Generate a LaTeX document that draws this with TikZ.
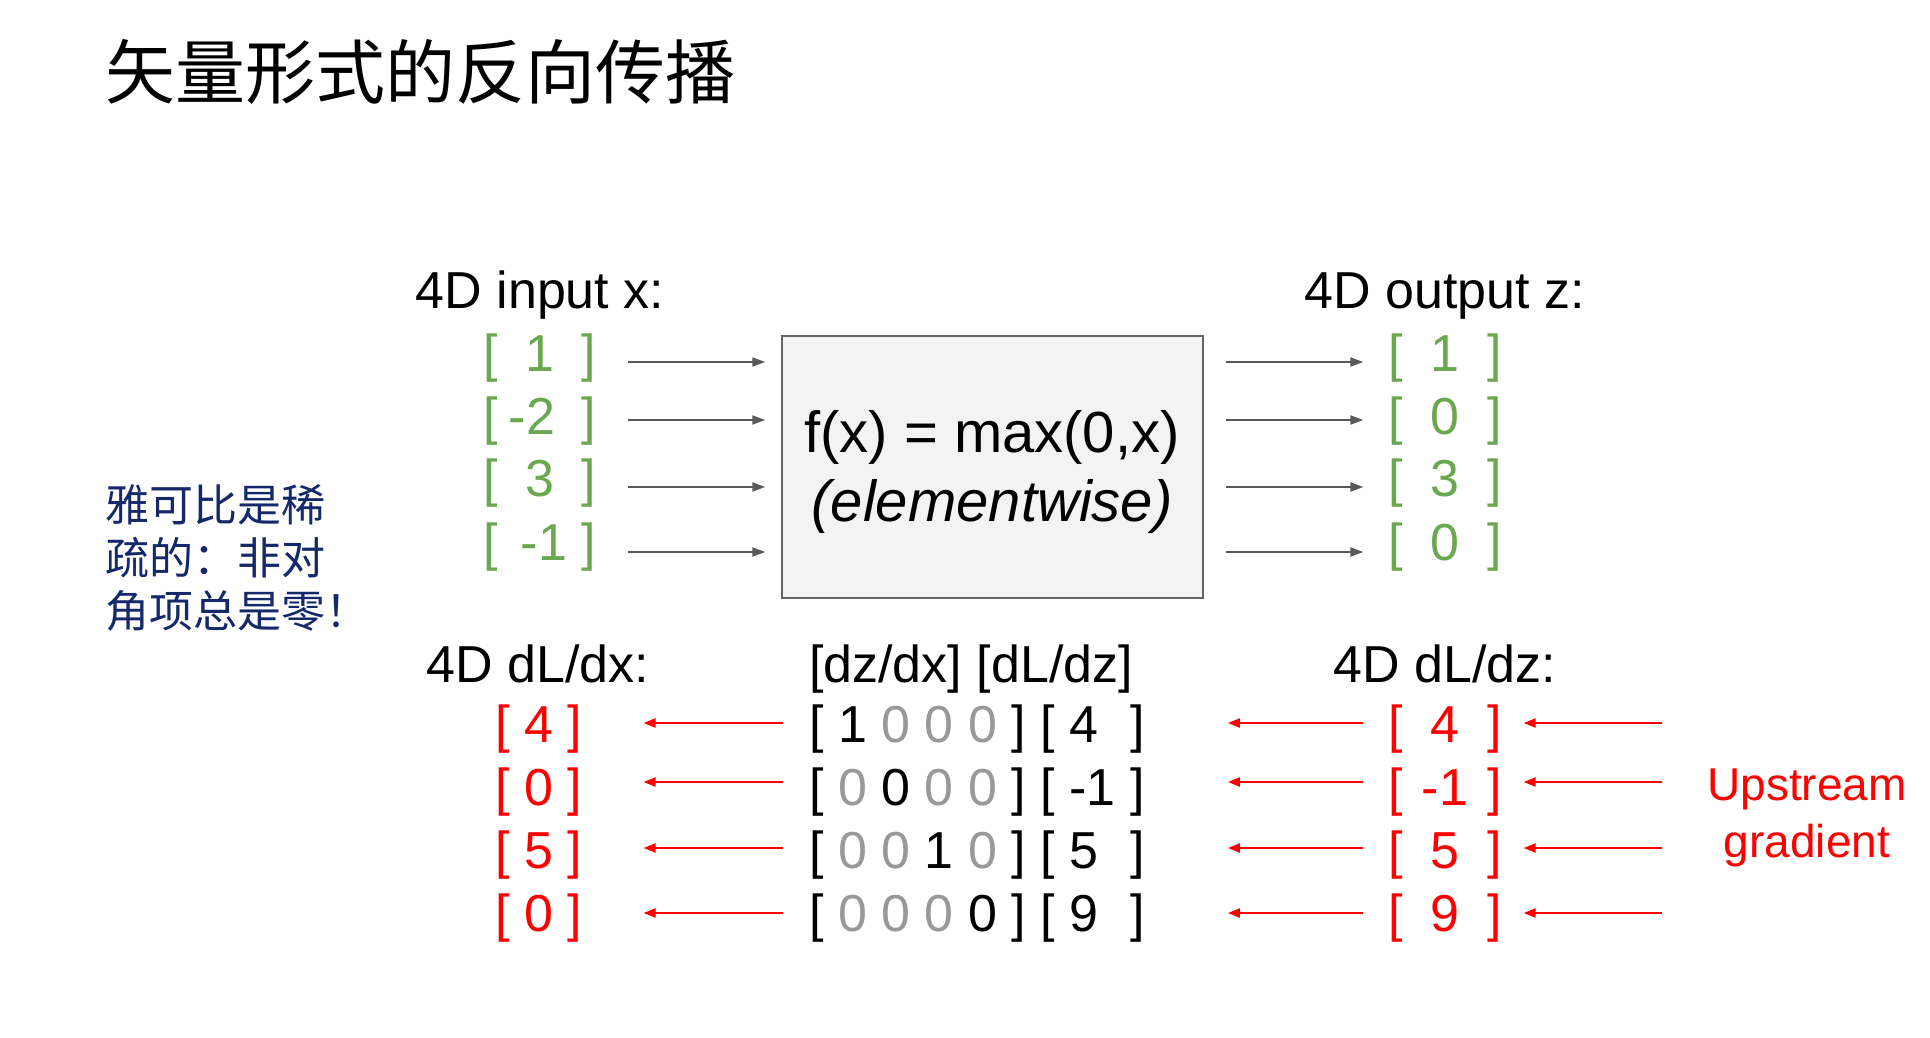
\documentclass[tikz,border=0pt]{standalone}
\usepackage{fontspec}
\setmainfont{Liberation Sans}
\newfontfamily\cjk{Noto Sans CJK SC}
\usetikzlibrary{arrows.meta,calc}
\definecolor{vgreen}{HTML}{6AA84F}
\definecolor{zgray}{HTML}{999999}
\definecolor{agray}{HTML}{595959}
\definecolor{boxfill}{HTML}{F3F3F3}
\definecolor{boxline}{HTML}{666666}
\definecolor{navy}{HTML}{14286A}
\newcommand\vecrow[2]{[\makebox[#1]{#2}]}
\newcommand\gz{\textcolor{zgray}{0}}
\begin{document}
\begin{tikzpicture}[x=1pt,y=-1pt,
  lbl/.style={inner sep=0pt, font=\fontsize{52}{62}\selectfont},
  grn/.style={lbl,text=vgreen},
  rd/.style={lbl,text=red},
  garr/.style={draw=agray,line width=2pt,-{Triangle[length=13pt,width=9pt]}},
  rarr/.style={draw=red,line width=2.2pt,-{Triangle[length=12pt,width=9pt]}},
]
\useasboundingbox (0,0) rectangle (1930,1038);

% title
\node[inner sep=0pt,anchor=west,font=\cjk\fontsize{70}{80}\selectfont] (title) at (105,72) {矢量形式的反向传播};

% side note
\node[inner sep=0pt,anchor=west,align=left,text=navy,font=\cjk\fontsize{44}{53}\selectfont] (note) at (105,558) {雅可比是稀\\疏的：非对\\角项总是零！};

% labels
\node[lbl,anchor=base] (lin) at (540,308) {4D input x:};
\node[lbl,anchor=base] (lout) at (1445,308) {4D output z:};
\node[lbl,anchor=base] (ldx) at (538,682) {4D dL/dx:};
\node[lbl,anchor=base] (ljac) at (971,682) {[dz/dx] [dL/dz]};
\node[lbl,anchor=base] (ldz) at (1445,682) {4D dL/dz:};

% function box
\node[draw=boxline,fill=boxfill,line width=1.5pt,minimum width=421pt,minimum height=262pt] (box) at (992.5,467) {};
\node[inner sep=0pt,align=center,font=\fontsize{58}{69}\selectfont] (ftext) at (992,472) {f(x) = max(0,x)\\\textit{(elementwise)}};

% input vector
\node[grn] (in1) at (540,358) {\vecrow{84pt}{1}};
\node[grn] (in2) at (540,421) {\vecrow{84pt}{-2\hspace{16pt}}};
\node[grn] (in3) at (540,483) {\vecrow{84pt}{3}};
\node[grn] (in4) at (540,547) {\vecrow{84pt}{\hspace{8pt}-1}};

% output vector
\node[grn] (out1) at (1445,358) {\vecrow{84pt}{1}};
\node[grn] (out2) at (1445,421) {\vecrow{84pt}{0}};
\node[grn] (out3) at (1445,483) {\vecrow{84pt}{3}};
\node[grn] (out4) at (1445,547) {\vecrow{84pt}{0}};

\foreach \i/\d in {1/4,2/-1,3/4,4/5}{
  \draw[garr] ($(in\i.east)+(31,\d)$) -- ($(in\i.east -| box.west)+(-16,\d)$);
  \draw[garr] ($(out\i.west -| box.east)+(22,\d)$) -- ($(out\i.west)+(-25,\d)$);
}

% dL/dx
\node[rd] (dx1) at (539,729) {[ 4 ]};
\node[rd] (dx2) at (539,792) {[ 0 ]};
\node[rd] (dx3) at (539,855) {[ 5 ]};
\node[rd] (dx4) at (539,918) {[ 0 ]};

% jacobian rows
\node[lbl,anchor=west] (jac1) at (809,729) {[ 1 \gz{} \gz{} \gz{} ] [\makebox[1.45em][l]{\ 4}]};
\node[lbl,anchor=west] (jac2) at (809,792) {[ \gz{} 0 \gz{} \gz{} ] [\makebox[1.45em][l]{\ -1}]};
\node[lbl,anchor=west] (jac3) at (809,855) {[ \gz{} \gz{} 1 \gz{} ] [\makebox[1.45em][l]{\ 5}]};
\node[lbl,anchor=west] (jac4) at (809,918) {[ \gz{} \gz{} \gz{} 0 ] [\makebox[1.45em][l]{\ 9}]};

% dL/dz
\node[rd] (dz1) at (1445,729) {\vecrow{84pt}{4}};
\node[rd] (dz2) at (1445,792) {\vecrow{84pt}{-1}};
\node[rd] (dz3) at (1445,855) {\vecrow{84pt}{5}};
\node[rd] (dz4) at (1445,918) {\vecrow{84pt}{9}};

\foreach \i/\d in {1/-6,2/-10,3/-7,4/-5}{
  \draw[rarr] ($(jac\i.west)+(-26,\d)$) -- ($(dx\i.east)+(61,\d)$);
  \draw[rarr] ($(dz\i.west)+(-25,\d)$) -- ($(dz\i.west -| jac1.east)+(83,\d)$);
  \draw[rarr] ($(dz\i.east)+(160,\d)$) -- ($(dz\i.east)+(22,\d)$);
}

\node[text=red,align=center,inner sep=0pt,font=\fontsize{46}{57}\selectfont] (up) at (1807,818) {Upstream\\gradient};
\end{tikzpicture}
\end{document}
